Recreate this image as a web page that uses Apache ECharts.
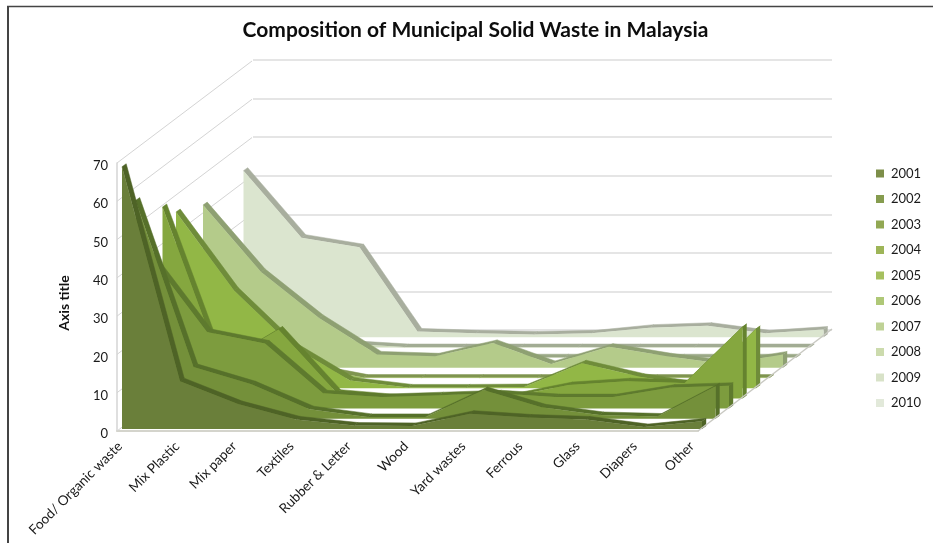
<!DOCTYPE html>
<html><head><meta charset="utf-8">
<style>html,body{margin:0;padding:0;background:#fff}#c{width:933px;height:543px}</style>
<script src="https://cdn.jsdelivr.net/npm/echarts@6/dist/echarts.min.js"></script>
</head><body><div id="c"></div>
<script>
const categories = ['Food/ Organic waste','Mix Plastic','Mix paper','Textiles','Rubber & Letter','Wood','Yard wastes','Ferrous','Glass','Diapers','Other'];
const years = ['2001','2002','2003','2004','2005','2006','2007','2008','2009','2010'];
const v2001 = [68.5,12.5,6.5,2.5,0.9,0.8,4,3,2.5,0.5,2];
const v2002 = [57,13.5,9,2.5,0.5,0.5,7.5,3,1,0.6,8.5];
const v2003 = [40,20,17,4,3,3.5,4,3,3,5.5,6];
const v2004 = [50,9,18,1.5,0.2,0.2,0.5,3.5,4.5,4,18.7];
const v2005 = [46,25.5,11,2,0.2,0.2,0.3,6.5,3,0.6,15.5];
const v2006 = [20,10,3,0.1,0.1,0.1,0.1,0.1,0.1,0.1,0.1];
const v2007 = [42.5,25,13,3.5,3,6.5,1,5.5,3,1,3.5];
const v2008 = [15,8,2,0.1,0.1,0.1,0.1,0.1,0.1,0.1,0.1];
const v2009 = [10,5,1,0.1,0.1,0.1,0.1,0.1,0.1,0.1,0.1];
const v2010 = [43.5,26,23.5,1.5,1,0.7,1,2.5,3,1,2];
const seriesValues = [v2001,v2002,v2003,v2004,v2005,v2006,v2007,v2008,v2009,v2010];
const yTicks = [0,10,20,30,40,50,60,70];

const legendColors = ['#7d8e49','#869c4f','#92a853','#9eb558','#a6c05f','#afc877','#bfd296','#ccdbad','#d8e2c8','#e2e9da'];
const faceColors = ['#6a7f3a','#74903a','#7d9c3e','#85a73f','#92b746','#a4c265','#b4cb8a','#c3d5a6','#cfdcbb','#dbe5cf'];
const ridgeColors = ['#4e6326','#56702a','#5e7a2e','#65832f','#6f8c3a','#7f9550','#8ea072','#9aa886','#a2ac94','#a8ae9e'];
const STEP_X = 13.5, STEP_Y = -10.2, TOP_X = 4.2, TOP_Y = -3;
const DEPTH_X = 135, DEPTH_Y = -102;

function mkRender(idx){
  const vals = seriesValues[idx];
  return function(params, api){
    if(params.dataIndex!==0) return null;
    const ox = STEP_X*idx, oy = STEP_Y*idx;
    const front = vals.map((v,k)=>{const c=api.coord([k,v]);return [c[0]+ox,c[1]+oy];});
    const base = vals.map((v,k)=>{const c=api.coord([k,0]);return [c[0]+ox,c[1]+oy];});
    const children = [];
    for(let k=0;k<front.length-1;k++){
      const a=front[k],b=front[k+1];
      children.push({type:'polygon',shape:{points:[a,b,[b[0]+TOP_X,b[1]+TOP_Y],[a[0]+TOP_X,a[1]+TOP_Y]]},
        style:{fill:ridgeColors[idx],stroke:ridgeColors[idx],lineWidth:0.5}});
    }
    const n=front.length-1, e=front[n], eb=base[n];
    children.push({type:'polygon',shape:{points:[e,[e[0]+TOP_X,e[1]+TOP_Y],[eb[0]+TOP_X,eb[1]+TOP_Y],eb]},
      style:{fill:ridgeColors[idx]}});
    children.push({type:'polygon',shape:{points:front.concat(base.slice().reverse())},
      style:{fill:faceColors[idx]}});
    return {type:'group',children};
  };
}
function wallRender(params, api){
  const v = api.value(0);
  const c = api.coord([0,v]);
  return {type:'line',shape:{x1:c[0],y1:c[1],x2:c[0]+DEPTH_X,y2:c[1]+DEPTH_Y},
    style:{stroke:'#d4d4d4',lineWidth:1}};
}
function floorRender(params, api){
  const c = api.coord([categories.length-1,0]);
  return {type:'line',shape:{x1:c[0],y1:c[1],x2:c[0]+DEPTH_X-1,y2:c[1]+DEPTH_Y},
    style:{stroke:'#c9c9c2',lineWidth:1.5}};
}
const labelFont = {fontFamily:'Lato',fontSize:13.6,color:'#1a1a1a'};
const series = [
  {type:'custom',name:'_walls',silent:true,xAxisIndex:0,yAxisIndex:0,z:2,clip:false,renderItem:wallRender,
   data:yTicks.map(t=>[t]),encode:{y:0}},
  {type:'custom',name:'_floor',silent:true,xAxisIndex:0,yAxisIndex:0,z:40,clip:false,renderItem:floorRender,data:[[0]],encode:{y:0}}
];
years.forEach((y,i)=>{
  series.push({type:'custom',name:y,xAxisIndex:2,yAxisIndex:2,z:30-i,clip:false,silent:true,
    itemStyle:{color:legendColors[i]},renderItem:mkRender(i),
    data:seriesValues[i].map((v,k)=>[k,v]),encode:{x:0,y:1}});
});
series.push({type:'line',xAxisIndex:1,yAxisIndex:1,data:[],silent:true});
series.push({type:'line',xAxisIndex:3,yAxisIndex:3,data:[],silent:true});

const chart = echarts.init(document.getElementById('c'),null,{renderer:'canvas'});
chart.setOption({
  animation:false,
  backgroundColor:'#fff',
  title:{text:'Composition of Municipal Solid Waste in Malaysia',left:475.5,textAlign:'center',top:15,
    textStyle:{fontFamily:'Lato',fontWeight:'bold',fontSize:21,color:'#0d0d0d'}},
  legend:{data:years,orient:'vertical',left:871,top:160,itemWidth:8,itemHeight:8,itemGap:8.5,icon:'rect',
    textStyle:{fontFamily:'Lato',fontSize:13,lineHeight:15,color:'#1a1a1a',padding:[2,0,0,2]},selectedMode:false},
  grid:[
    {left:117,top:163,width:581,height:268},
    {left:253,top:60,width:579,height:270},
    {left:122,top:161,width:580,height:268},
    {left:120,top:166,width:572,height:268}
  ],
  xAxis:[
    {type:'category',gridIndex:0,data:categories,boundaryGap:false,
      axisLine:{show:true,lineStyle:{color:'#d4d4cc',width:2}},axisTick:{show:false},axisLabel:{show:false},splitLine:{show:false}},
    {type:'category',gridIndex:1,data:categories,boundaryGap:false,show:false},
    {type:'category',gridIndex:2,data:categories,boundaryGap:false,show:false},
    {type:'category',gridIndex:3,data:categories,boundaryGap:false,
      axisLine:{show:false},axisTick:{show:false},
      axisLabel:Object.assign({rotate:45,interval:0,margin:10},labelFont),splitLine:{show:false}}
  ],
  yAxis:[
    {type:'value',gridIndex:0,min:0,max:70,interval:10,
      axisLine:{show:true,lineStyle:{color:'#d4d4d4',width:1.5}},axisTick:{show:false},axisLabel:{show:false},splitLine:{show:false}},
    {type:'value',gridIndex:1,min:0,max:70,interval:10,
      axisLine:{show:false},axisTick:{show:false},axisLabel:{show:false},
      splitLine:{show:true,lineStyle:{color:'#dcdcdc',width:1.5}}},
    {type:'value',gridIndex:2,min:0,max:70,interval:10,show:false},
    {type:'value',gridIndex:3,min:0,max:70,interval:10,
      name:'Axis title',nameLocation:'middle',nameGap:49,
      nameTextStyle:{fontFamily:'Lato',fontWeight:'bold',fontSize:14,color:'#111',padding:[0,6,0,0]},
      axisLine:{show:false},axisTick:{show:false},
      axisLabel:{margin:12,fontFamily:'Lato',fontSize:13,color:'#1a1a1a'},splitLine:{show:false}}
  ],
  series,
  graphic:[
    {type:'line',shape:{x1:8,y1:6,x2:8,y2:543},style:{stroke:'#444',lineWidth:2},silent:true},
    {type:'line',shape:{x1:7,y1:6.5,x2:933,y2:6.5},style:{stroke:'#444',lineWidth:1.6},silent:true}
  ]
});
chart.setOption({title:{left:470.5}});
</script></body></html>
